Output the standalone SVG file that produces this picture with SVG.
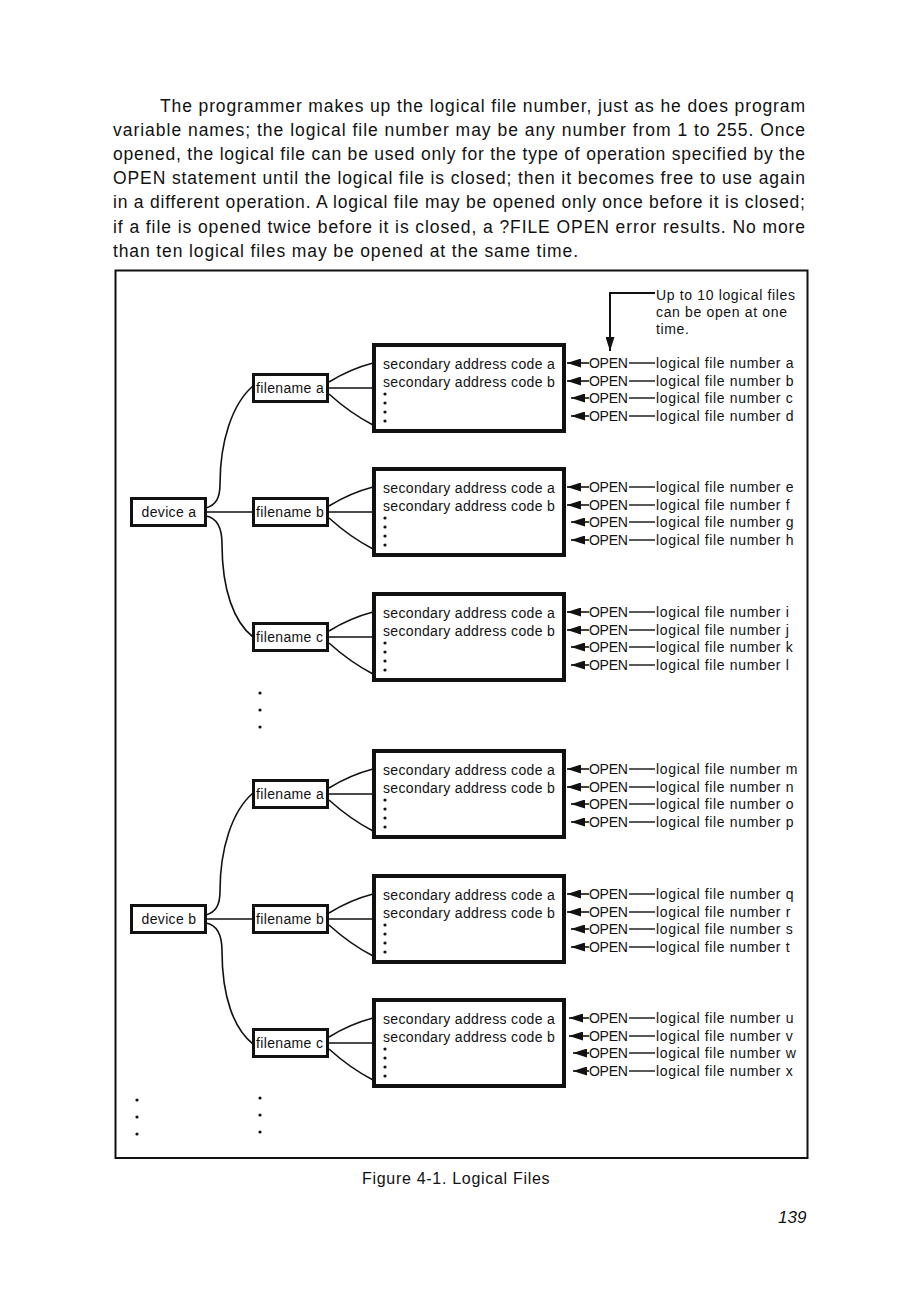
<svg xmlns="http://www.w3.org/2000/svg" width="912" height="1308" viewBox="0 0 912 1308">
<style>
  .para { font-family: "Liberation Sans", Arial, sans-serif; font-size: 17.5px; fill: #111; }
  .sec { font-family: "Liberation Sans", Arial, sans-serif; font-size: 14px; letter-spacing: 0.33px; fill: #111; }
  .fn { font-family: "Liberation Sans", Arial, sans-serif; font-size: 14px; letter-spacing: 0.35px; fill: #111; }
  .open { font-family: "Liberation Sans", Arial, sans-serif; font-size: 14px; letter-spacing: -0.3px; fill: #111; }
  .lfn { font-family: "Liberation Sans", Arial, sans-serif; font-size: 14px; letter-spacing: 0.65px; fill: #111; }
  .cap { font-family: "Liberation Sans", Arial, sans-serif; font-size: 16px; letter-spacing: 0.7px; fill: #111; }
  .pg { font-family: "Liberation Sans", Arial, sans-serif; font-size: 17px; font-style: italic; fill: #111; }
  .secbox { fill: #fff; stroke: #111; stroke-width: 4; }
  .fnbox { fill: #fff; stroke: #111; stroke-width: 3; }
  .ln { fill: none; stroke: #111; stroke-width: 1.6; }
  .arr { fill: none; stroke: #111; stroke-width: 1.6; marker-end: url(#ah); }
  .thin { fill: none; stroke: #111; stroke-width: 1.4; }
  .dot { fill: #111; }
</style>
<defs>
  <marker id="ah" viewBox="0 0 14 9" refX="14" refY="4.5" markerWidth="14" markerHeight="9" markerUnits="userSpaceOnUse" orient="auto">
    <path d="M0,0 L14,4.5 L0,9 Z" fill="#111"/>
  </marker>
</defs>
<rect x="0" y="0" width="912" height="1308" fill="#fff"/>

<g id="paragraph">
  <text class="para" x="160" y="112" textLength="645" lengthAdjust="spacing">The programmer makes up the logical file number, just as he does program</text>
  <text class="para" x="113" y="136" textLength="692" lengthAdjust="spacing">variable names; the logical file number may be any number from 1 to 255. Once</text>
  <text class="para" x="113" y="160" textLength="692" lengthAdjust="spacing">opened, the logical file can be used only for the type of operation specified by the</text>
  <text class="para" x="113" y="184" textLength="692" lengthAdjust="spacing">OPEN statement until the logical file is closed; then it becomes free to use again</text>
  <text class="para" x="113" y="208" textLength="692" lengthAdjust="spacing">in a different operation. A logical file may be opened only once before it is closed;</text>
  <text class="para" x="113" y="233" textLength="692" lengthAdjust="spacing">if a file is opened twice before it is closed, a ?FILE OPEN error results. No more</text>
  <text class="para" x="113" y="257" textLength="465" lengthAdjust="spacing">than ten logical files may be opened at the same time.</text>
</g>

<g id="frame">
  <rect x="115.5" y="270.5" width="692" height="887.5" fill="none" stroke="#111" stroke-width="2"/>
</g>

<g id="connectors">
  <!-- device a -->
  <path class="ln" d="M206,512 H253"/>
  <path class="ln" d="M206,508 C216,505 220,498 220,484 C220,442 232,404 253,386"/>
  <path class="ln" d="M206,516 C217,518 222,528 222,544 C222,590 234,622 253,637"/>
  <!-- device b -->
  <path class="ln" d="M206,919 H253"/>
  <path class="ln" d="M206,915 C216,912 220,905 220,891 C220,849 232,811 253,793"/>
  <path class="ln" d="M206,923 C217,925 222,935 222,951 C222,997 234,1029 253,1044"/>
  <!-- filename to secondary boxes -->
  <path class="ln" d="M329,382 Q350,369 373,363"/><path class="ln" d="M329,388 H373"/><path class="ln" d="M329,394 Q350,413 373,425"/>
  <path class="ln" d="M329,506 Q350,493 373,487"/><path class="ln" d="M329,512 H373"/><path class="ln" d="M329,518 Q350,537 373,549"/>
  <path class="ln" d="M329,631 Q350,618 373,612"/><path class="ln" d="M329,637 H373"/><path class="ln" d="M329,643 Q350,662 373,674"/>
  <path class="ln" d="M329,788 Q350,775 373,769"/><path class="ln" d="M329,794 H373"/><path class="ln" d="M329,800 Q350,819 373,831"/>
  <path class="ln" d="M329,913 Q350,900 373,894"/><path class="ln" d="M329,919 H373"/><path class="ln" d="M329,925 Q350,944 373,956"/>
  <path class="ln" d="M329,1037 Q350,1024 373,1018"/><path class="ln" d="M329,1043 H373"/><path class="ln" d="M329,1049 Q350,1068 373,1080"/>
  <!-- annotation arrow -->
  <path class="ln" d="M655,293 H610 V351" style="stroke-width:2;marker-end:url(#ah)"/>
  <!-- OPEN arrows block a1 -->
  <path class="arr" d="M589,363 H567"/><path class="arr" d="M589,381 H567"/><path class="arr" d="M589,398 H571"/><path class="arr" d="M589,416 H571"/>
  <path class="thin" d="M629,363 H655"/><path class="thin" d="M629,381 H655"/><path class="thin" d="M629,398 H655"/><path class="thin" d="M629,416 H655"/>
  <!-- a2 -->
  <path class="arr" d="M589,487 H567"/><path class="arr" d="M589,505 H567"/><path class="arr" d="M589,522 H571"/><path class="arr" d="M589,540 H571"/>
  <path class="thin" d="M629,487 H655"/><path class="thin" d="M629,505 H655"/><path class="thin" d="M629,522 H655"/><path class="thin" d="M629,540 H655"/>
  <!-- a3 -->
  <path class="arr" d="M589,612 H567"/><path class="arr" d="M589,630 H567"/><path class="arr" d="M589,647 H571"/><path class="arr" d="M589,665 H571"/>
  <path class="thin" d="M629,612 H655"/><path class="thin" d="M629,630 H655"/><path class="thin" d="M629,647 H655"/><path class="thin" d="M629,665 H655"/>
  <!-- b1 -->
  <path class="arr" d="M589,769 H567"/><path class="arr" d="M589,787 H567"/><path class="arr" d="M589,804 H571"/><path class="arr" d="M589,822 H571"/>
  <path class="thin" d="M629,769 H655"/><path class="thin" d="M629,787 H655"/><path class="thin" d="M629,804 H655"/><path class="thin" d="M629,822 H655"/>
  <!-- b2 -->
  <path class="arr" d="M589,894 H567"/><path class="arr" d="M589,912 H567"/><path class="arr" d="M589,929 H571"/><path class="arr" d="M589,947 H571"/>
  <path class="thin" d="M629,894 H655"/><path class="thin" d="M629,912 H655"/><path class="thin" d="M629,929 H655"/><path class="thin" d="M629,947 H655"/>
  <!-- b3 -->
  <path class="arr" d="M589,1018 H569"/><path class="arr" d="M589,1036 H569"/><path class="arr" d="M589,1053 H573"/><path class="arr" d="M589,1071 H573"/>
  <path class="thin" d="M629,1018 H655"/><path class="thin" d="M629,1036 H655"/><path class="thin" d="M629,1053 H655"/><path class="thin" d="M629,1071 H655"/>
</g>

<g id="annotation">
  <text class="lfn" x="656" y="300">Up to 10 logical files</text>
  <text class="lfn" x="656" y="317">can be open at one</text>
  <text class="lfn" x="656" y="334">time.</text>
</g>

<g id="device-a">
  <rect class="fnbox" x="131.5" y="498.5" width="74" height="27"/>
  <text class="fn" x="169" y="517" text-anchor="middle">device a</text>
</g>
<g id="device-b">
  <rect class="fnbox" x="131.5" y="905.5" width="74" height="27"/>
  <text class="fn" x="169" y="924" text-anchor="middle">device b</text>
</g>

<g id="filename-a1"><rect class="fnbox" x="253.5" y="374.5" width="74" height="27"/><text class="fn" x="256" y="393">filename a</text></g>
<g id="filename-b1"><rect class="fnbox" x="253.5" y="498.5" width="74" height="27"/><text class="fn" x="256" y="517">filename b</text></g>
<g id="filename-c1"><rect class="fnbox" x="253.5" y="623.5" width="74" height="27"/><text class="fn" x="256" y="642">filename c</text></g>
<g id="filename-a2"><rect class="fnbox" x="253.5" y="780.5" width="74" height="27"/><text class="fn" x="256" y="799">filename a</text></g>
<g id="filename-b2"><rect class="fnbox" x="253.5" y="905.5" width="74" height="27"/><text class="fn" x="256" y="924">filename b</text></g>
<g id="filename-c2"><rect class="fnbox" x="253.5" y="1029.5" width="74" height="27"/><text class="fn" x="256" y="1048">filename c</text></g>

<g id="secondary-a1">
  <rect class="secbox" x="374" y="345" width="190" height="86"/>
  <text class="sec" x="383" y="369">secondary address code a</text>
  <text class="sec" x="383" y="387">secondary address code b</text>
  <circle class="dot" cx="385" cy="394" r="1.6"/><circle class="dot" cx="385" cy="403" r="1.6"/><circle class="dot" cx="385" cy="412" r="1.6"/><circle class="dot" cx="385" cy="421" r="1.6"/>
</g>
<g id="secondary-b1">
  <rect class="secbox" x="374" y="469" width="190" height="86"/>
  <text class="sec" x="383" y="493">secondary address code a</text>
  <text class="sec" x="383" y="511">secondary address code b</text>
  <circle class="dot" cx="385" cy="518" r="1.6"/><circle class="dot" cx="385" cy="527" r="1.6"/><circle class="dot" cx="385" cy="536" r="1.6"/><circle class="dot" cx="385" cy="545" r="1.6"/>
</g>
<g id="secondary-c1">
  <rect class="secbox" x="374" y="594" width="190" height="86"/>
  <text class="sec" x="383" y="618">secondary address code a</text>
  <text class="sec" x="383" y="636">secondary address code b</text>
  <circle class="dot" cx="385" cy="643" r="1.6"/><circle class="dot" cx="385" cy="652" r="1.6"/><circle class="dot" cx="385" cy="661" r="1.6"/><circle class="dot" cx="385" cy="670" r="1.6"/>
</g>
<g id="secondary-a2">
  <rect class="secbox" x="374" y="751" width="190" height="86"/>
  <text class="sec" x="383" y="775">secondary address code a</text>
  <text class="sec" x="383" y="793">secondary address code b</text>
  <circle class="dot" cx="385" cy="800" r="1.6"/><circle class="dot" cx="385" cy="809" r="1.6"/><circle class="dot" cx="385" cy="818" r="1.6"/><circle class="dot" cx="385" cy="827" r="1.6"/>
</g>
<g id="secondary-b2">
  <rect class="secbox" x="374" y="876" width="190" height="86"/>
  <text class="sec" x="383" y="900">secondary address code a</text>
  <text class="sec" x="383" y="918">secondary address code b</text>
  <circle class="dot" cx="385" cy="925" r="1.6"/><circle class="dot" cx="385" cy="934" r="1.6"/><circle class="dot" cx="385" cy="943" r="1.6"/><circle class="dot" cx="385" cy="952" r="1.6"/>
</g>
<g id="secondary-c2">
  <rect class="secbox" x="374" y="1000" width="190" height="86"/>
  <text class="sec" x="383" y="1024">secondary address code a</text>
  <text class="sec" x="383" y="1042">secondary address code b</text>
  <circle class="dot" cx="385" cy="1049" r="1.6"/><circle class="dot" cx="385" cy="1058" r="1.6"/><circle class="dot" cx="385" cy="1067" r="1.6"/><circle class="dot" cx="385" cy="1076" r="1.6"/>
</g>

<g id="open-labels">
  <text class="open" x="589" y="368">OPEN</text><text class="lfn" x="656" y="368">logical file number a</text>
  <text class="open" x="589" y="386">OPEN</text><text class="lfn" x="656" y="386">logical file number b</text>
  <text class="open" x="589" y="403">OPEN</text><text class="lfn" x="656" y="403">logical file number c</text>
  <text class="open" x="589" y="421">OPEN</text><text class="lfn" x="656" y="421">logical file number d</text>

  <text class="open" x="589" y="492">OPEN</text><text class="lfn" x="656" y="492">logical file number e</text>
  <text class="open" x="589" y="510">OPEN</text><text class="lfn" x="656" y="510">logical file number f</text>
  <text class="open" x="589" y="527">OPEN</text><text class="lfn" x="656" y="527">logical file number g</text>
  <text class="open" x="589" y="545">OPEN</text><text class="lfn" x="656" y="545">logical file number h</text>

  <text class="open" x="589" y="617">OPEN</text><text class="lfn" x="656" y="617">logical file number i</text>
  <text class="open" x="589" y="635">OPEN</text><text class="lfn" x="656" y="635">logical file number j</text>
  <text class="open" x="589" y="652">OPEN</text><text class="lfn" x="656" y="652">logical file number k</text>
  <text class="open" x="589" y="670">OPEN</text><text class="lfn" x="656" y="670">logical file number l</text>

  <text class="open" x="589" y="774">OPEN</text><text class="lfn" x="656" y="774">logical file number m</text>
  <text class="open" x="589" y="792">OPEN</text><text class="lfn" x="656" y="792">logical file number n</text>
  <text class="open" x="589" y="809">OPEN</text><text class="lfn" x="656" y="809">logical file number o</text>
  <text class="open" x="589" y="827">OPEN</text><text class="lfn" x="656" y="827">logical file number p</text>

  <text class="open" x="589" y="899">OPEN</text><text class="lfn" x="656" y="899">logical file number q</text>
  <text class="open" x="589" y="917">OPEN</text><text class="lfn" x="656" y="917">logical file number r</text>
  <text class="open" x="589" y="934">OPEN</text><text class="lfn" x="656" y="934">logical file number s</text>
  <text class="open" x="589" y="952">OPEN</text><text class="lfn" x="656" y="952">logical file number t</text>

  <text class="open" x="589" y="1023">OPEN</text><text class="lfn" x="656" y="1023">logical file number u</text>
  <text class="open" x="589" y="1041">OPEN</text><text class="lfn" x="656" y="1041">logical file number v</text>
  <text class="open" x="589" y="1058">OPEN</text><text class="lfn" x="656" y="1058">logical file number w</text>
  <text class="open" x="589" y="1076">OPEN</text><text class="lfn" x="656" y="1076">logical file number x</text>
</g>

<g id="ellipsis">
  <circle class="dot" cx="260" cy="693" r="1.6"/><circle class="dot" cx="260" cy="710" r="1.6"/><circle class="dot" cx="260" cy="727" r="1.6"/>
  <circle class="dot" cx="137" cy="1100" r="1.6"/><circle class="dot" cx="137" cy="1117" r="1.6"/><circle class="dot" cx="137" cy="1134" r="1.6"/>
  <circle class="dot" cx="260" cy="1098" r="1.6"/><circle class="dot" cx="260" cy="1115" r="1.6"/><circle class="dot" cx="260" cy="1132" r="1.6"/>
</g>

<g id="caption">
  <text class="cap" x="362" y="1184">Figure 4-1. Logical Files</text>
  <text class="pg" x="778" y="1223">139</text>
</g>
</svg>
